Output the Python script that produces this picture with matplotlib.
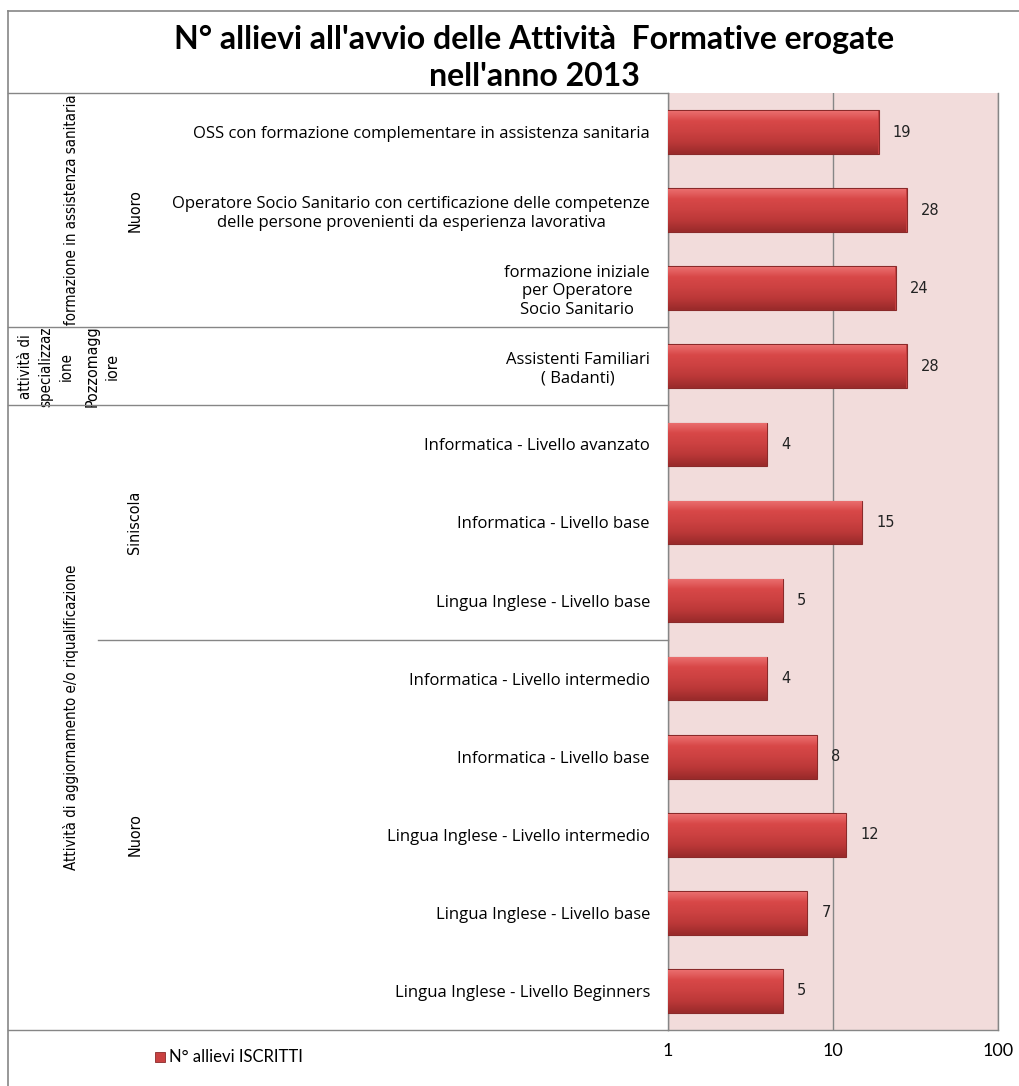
import numpy as np
import matplotlib.pyplot as plt
from matplotlib.transforms import blended_transform_factory
from matplotlib.patches import Rectangle
from matplotlib.lines import Line2D
from matplotlib.colors import LinearSegmentedColormap

W, H = 1019, 1086

labels = [
    "OSS con formazione complementare in assistenza sanitaria",
    "Operatore Socio Sanitario con certificazione delle competenze\ndelle persone provenienti da esperienza lavorativa",
    "formazione iniziale\nper Operatore\nSocio Sanitario",
    "Assistenti Familiari\n( Badanti)",
    "Informatica - Livello avanzato",
    "Informatica - Livello base",
    "Lingua Inglese - Livello base",
    "Informatica - Livello intermedio",
    "Informatica - Livello base",
    "Lingua Inglese - Livello intermedio",
    "Lingua Inglese - Livello base",
    "Lingua Inglese - Livello Beginners",
]
values = [19, 28, 24, 28, 4, 15, 5, 4, 8, 12, 7, 5]

sedi = ["Nuoro", "Pozzomagg\niore", "Siniscola", "Nuoro"]
sedi_n = [3, 1, 3, 5]
tipi = ["formazione in assistenza sanitaria",
        "attività di\nspecializzaz\nione",
        "Attività di aggiornamento e/o riqualificazione"]
tipi_n = [3, 1, 8]

title = "N° allievi all'avvio delle Attività  Formative erogate\nnell'anno 2013"
series_name = "N° allievi ISCRITTI"

# label positions in pixels (x)
sedi_x = [135, 102, 135, 135]
tipi_x = [72, 46, 71]

grey = "#868686"
pink = "#f2dcdb"
label_font = ["Open Sans", "DejaVu Sans"]
narrow_font = ["DejaVu Sans"]


def fx(x):
    return x / W


def fy(y):
    return 1 - y / H


fig = plt.figure(figsize=(W / 100, H / 100), dpi=100)

ax = fig.add_axes([fx(668), fy(1030), fx(998) - fx(668), fy(93) - fy(1030)])
ax.set_facecolor(pink)
ax.set_xscale("log")
n = len(values)
ypos = np.arange(n)

bar_h = 0.56
bars = ax.barh(ypos, values, height=bar_h, color="#c94141",
               edgecolor="#8a2a2a", linewidth=0.8, zorder=3)

# vertical gradient on each bar
grad = np.linspace(0, 1, 64).reshape(-1, 1)
cmap = LinearSegmentedColormap.from_list(
    "bar", ["#ec7272", "#d84848", "#cc4141", "#bb3838", "#9a2b2b"])
for b, y, v in zip(bars, ypos, values):
    im = ax.imshow(grad, cmap=cmap, aspect="auto", interpolation="bilinear",
                   extent=[1, v, y + bar_h / 2, y - bar_h / 2], zorder=3.5)
    im.set_clip_path(b)
ax.set_xlim(1, 100)
ax.set_ylim(n - 0.5, -0.5)

for y, v in zip(ypos, values):
    ax.annotate(str(v), (v, y), xytext=(10, 0), textcoords="offset points",
                va="center", ha="left", fontsize=10.5, color="#222222",
                family="DejaVu Sans")

ax.set_xticks([1, 10, 100])
ax.set_xticklabels(["1", "10", "100"], family=["Lato", "DejaVu Sans"], fontsize=13)
ax.xaxis.set_minor_locator(plt.NullLocator())
ax.tick_params(axis="x", length=0, pad=9)
ax.grid(axis="x", which="major", color=grey, linewidth=1, zorder=1)
ax.set_axisbelow(True)

ax.set_yticks(ypos)
ax.set_yticklabels(labels, family=label_font, fontsize=12)
for t in ax.get_yticklabels():
    t.set_multialignment("center")
    t.set_linespacing(1.2)
ax.tick_params(axis="y", length=0, pad=13)

for s in ["left", "right", "bottom"]:
    ax.spines[s].set_color(grey)
    ax.spines[s].set_linewidth(1)
ax.spines["top"].set_visible(False)

# group labels
tr = blended_transform_factory(fig.transFigure, ax.transData)
start = 0
for name, k, x in zip(sedi, sedi_n, sedi_x):
    ax.text(fx(x), start + (k - 1) / 2, name, transform=tr, rotation=90,
            ha="center", va="center", multialignment="center",
            family=narrow_font, fontstretch="condensed", fontsize=11.5,
            linespacing=1.4)
    start += k
start = 0
for name, k, x in zip(tipi, tipi_n, tipi_x):
    ax.text(fx(x), start + (k - 1) / 2, name, transform=tr, rotation=90,
            ha="center", va="center", multialignment="center",
            family=narrow_font, fontstretch="condensed", fontsize=10.8,
            linespacing=1.45)
    start += k

# separator lines of the category table
lines = []
b = 0
for k in tipi_n[:-1]:
    b += k
    lines.append(((fx(8), fx(668)), b - 0.5))
b = 0
for k in sedi_n[:-1]:
    b += k
    if b not in np.cumsum(tipi_n):
        lines.append(((fx(98), fx(668)), b - 0.5))
for (x0, x1), yb in lines:
    fig.add_artist(Line2D([x0, x1], [yb, yb], transform=tr, color=grey, lw=1))

fig.add_artist(Line2D([fx(8), fx(668)], [fy(93), fy(93)], color=grey, lw=1))
fig.add_artist(Line2D([fx(8), fx(668)], [fy(1030), fy(1030)], color=grey, lw=1))
# chart frame
fig.add_artist(Line2D([fx(8), 1], [fy(11), fy(11)], color=grey, lw=1.2))
fig.add_artist(Line2D([fx(8), fx(8)], [0, fy(11)], color=grey, lw=1.2))

fig.text(0.524, fy(58), title, ha="center", va="center", fontsize=23,
         fontweight="bold", family=["Lato", "DejaVu Sans"], linespacing=1.3)

# legend
fig.add_artist(Rectangle((fx(155), fy(1062)), fx(10), 10 / H, facecolor="#c94141",
                         edgecolor="#8a2a2a", lw=0.6))
fig.text(fx(169), fy(1057), series_name, ha="left", va="center",
         family=["Lato", "DejaVu Sans"], fontsize=12)

fig.savefig("out.png", dpi=100)
